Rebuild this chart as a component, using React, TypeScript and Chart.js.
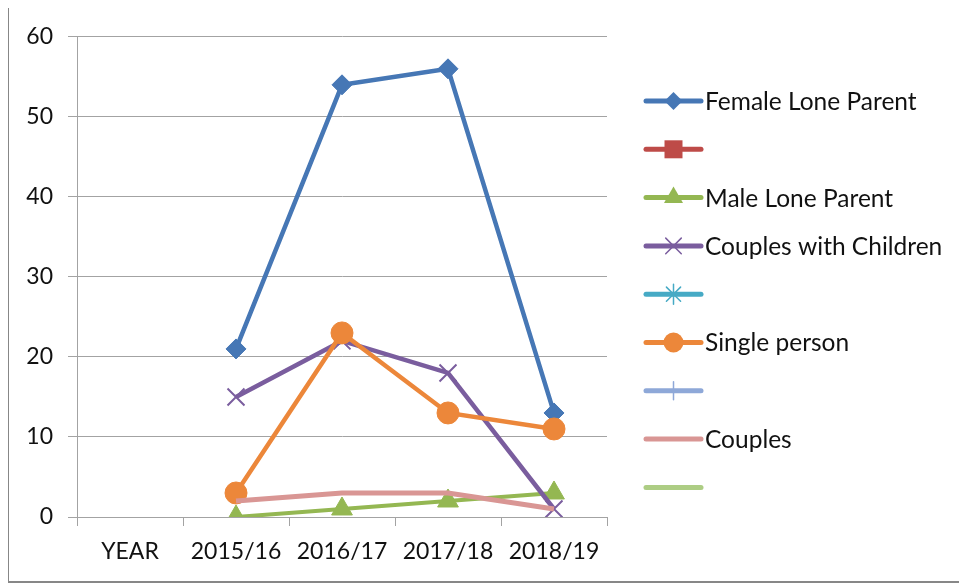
import React, { useEffect, useRef } from 'react';
import { Chart, registerables } from 'chart.js';

Chart.register(...registerables);

// ---------- data ----------
const categories = ['YEAR', '2015/16', '2016/17', '2017/18', '2018/19'];
const seriesNames = [
  'Female Lone Parent',
  '',
  'Male Lone Parent',
  'Couples with Children',
  '',
  'Single person',
  '',
  'Couples',
  '',
];
const femaleLoneParent = [null, 21, 54, 56, 13];
const unnamedSeries2 = [null, null, null, null, null];
const maleLoneParent = [null, 0, 1, 2, 3];
const couplesWithChildren = [null, 15, 22, 18, 1];
const unnamedSeries5 = [null, null, null, null, null];
const singlePerson = [null, 3, 23, 13, 11];
const unnamedSeries7 = [null, null, null, null, null];
const couples = [null, 2, 3, 3, 1];
const unnamedSeries9 = [null, null, null, null, null];
const yMin = 0;
const yMax = 60;
const yStep = 10;

// ---------- styles ----------
const seriesValues = [
  femaleLoneParent,
  unnamedSeries2,
  maleLoneParent,
  couplesWithChildren,
  unnamedSeries5,
  singlePerson,
  unnamedSeries7,
  couples,
  unnamedSeries9,
];
const seriesColors = ['#4677B5', '#BE4B48', '#94B752', '#7A5D9E', '#46AAC5', '#EC873A', '#8EA8D8', '#D99694', '#ADCD84'];
const seriesMarkers = ['rectRot', 'rect', 'triangle', 'crossRot', 'star', 'circle', 'cross', 'none', 'none'];
const chartRadius = [10, 9, 12, 12, 9, 11, 9, 0, 0];
const lineWidths = [4.5, 4.5, 4, 4.5, 4.5, 4.5, 4.5, 5, 5];

const FONT = 'Lato, "Open Sans", sans-serif';
const TEXT = '#111111';
const GRID = '#a3a3a3';

function drawMarker(ctx: CanvasRenderingContext2D, style: string, x: number, y: number, r: number, color: string) {
  ctx.save();
  ctx.fillStyle = color;
  ctx.strokeStyle = color;
  ctx.lineWidth = 1.5;
  ctx.beginPath();
  switch (style) {
    case 'rectRot':
      ctx.moveTo(x, y - r);
      ctx.lineTo(x + r, y);
      ctx.lineTo(x, y + r);
      ctx.lineTo(x - r, y);
      ctx.closePath();
      ctx.fill();
      break;
    case 'rect':
      ctx.rect(x - r, y - r, 2 * r, 2 * r);
      ctx.fill();
      break;
    case 'triangle': {
      const h = r * Math.sqrt(3) / 2;
      ctx.moveTo(x, y - r);
      ctx.lineTo(x + h, y + r / 2);
      ctx.lineTo(x - h, y + r / 2);
      ctx.closePath();
      ctx.fill();
      break;
    }
    case 'circle':
      ctx.arc(x, y, r, 0, Math.PI * 2);
      ctx.fill();
      break;
    case 'crossRot': {
      const d = r * Math.SQRT1_2;
      ctx.moveTo(x - d, y - d);
      ctx.lineTo(x + d, y + d);
      ctx.moveTo(x - d, y + d);
      ctx.lineTo(x + d, y - d);
      ctx.stroke();
      break;
    }
    case 'cross':
      ctx.moveTo(x, y - r);
      ctx.lineTo(x, y + r);
      ctx.stroke();
      break;
    case 'star': {
      const d = r * Math.SQRT1_2;
      ctx.moveTo(x - d, y - d);
      ctx.lineTo(x + d, y + d);
      ctx.moveTo(x - d, y + d);
      ctx.lineTo(x + d, y - d);
      ctx.moveTo(x, y - r);
      ctx.lineTo(x, y + r);
      ctx.stroke();
      break;
    }
    default:
      break;
  }
  ctx.restore();
}

const legendMarkerRadius: Record<string, number> = {
  rectRot: 9,
  rect: 9,
  triangle: 11,
  crossRot: 11,
  star: 10,
  circle: 10,
  cross: 9,
  none: 0,
};

const excelLegend = {
  id: 'excelLegend',
  afterDraw(chart: any) {
    const ctx: CanvasRenderingContext2D = chart.ctx;
    const x0 = 637;
    const x1 = 692;
    const xm = (x0 + x1) / 2;
    const textX = 696;
    const y0 = 93;
    const dy = 48.3;
    seriesNames.forEach((name, i) => {
      const y = y0 + i * dy;
      ctx.save();
      ctx.strokeStyle = seriesColors[i];
      ctx.lineWidth = 5;
      ctx.lineCap = 'round';
      ctx.beginPath();
      ctx.moveTo(x0, y);
      ctx.lineTo(x1, y);
      ctx.stroke();
      const m = seriesMarkers[i];
      drawMarker(ctx, m, xm, y, legendMarkerRadius[m], seriesColors[i]);
      if (name) {
        ctx.fillStyle = TEXT;
        ctx.font = `24.5px ${FONT}`;
        ctx.textBaseline = 'middle';
        ctx.textAlign = 'left';
        ctx.fillText(name, textX, y + 1);
      }
      ctx.restore();
    });
  },
};

export default function App() {
  const ref = useRef<HTMLCanvasElement | null>(null);

  useEffect(() => {
    if (!ref.current) return;
    const n = seriesNames.length;
    const datasets = seriesNames.map((name, i) => {
      const m = seriesMarkers[i];
      const isCross = m === 'crossRot' || m === 'cross' || m === 'star';
      return {
        label: name,
        data: seriesValues[i],
        borderColor: seriesColors[i],
        backgroundColor: seriesColors[i],
        borderWidth: lineWidths[i],
        pointStyle: m === 'none' ? false : m,
        pointRadius: m === 'none' ? 0 : chartRadius[i],
        pointBackgroundColor: isCross ? 'transparent' : seriesColors[i],
        pointBorderColor: seriesColors[i],
        pointBorderWidth: isCross ? 2 : 1,
        tension: 0,
        spanGaps: false,
        order: n - i,
      };
    });

    const chart = new Chart(ref.current, {
      type: 'line',
      data: { labels: categories, datasets: datasets as any },
      options: {
        responsive: false,
        animation: false,
        layout: { padding: { left: 0, right: 360, top: 28, bottom: 0 } },
        plugins: { legend: { display: false }, tooltip: { enabled: false } },
        scales: {
          x: {
            offset: true,
            grid: {
              offset: true,
              drawOnChartArea: false,
              drawTicks: true,
              tickLength: 9,
              color: GRID,
            },
            border: { display: true, color: GRID, width: 1 },
            ticks: {
              font: { family: FONT, size: 23 },
              color: TEXT,
              padding: 12,
              maxRotation: 0,
              autoSkip: false,
            },
            afterFit: (s: any) => {
              s.height = 64;
            },
          },
          y: {
            min: yMin,
            max: yMax,
            grid: { color: GRID, tickLength: 9, drawTicks: true },
            border: { display: true, color: GRID, width: 1 },
            ticks: {
              stepSize: yStep,
              font: { family: FONT, size: 23 },
              color: TEXT,
              padding: 15,
            },
            afterFit: (s: any) => {
              s.width = 68;
            },
          },
        },
      },
      plugins: [excelLegend],
    });
    return () => chart.destroy();
  }, []);

  return (
    <div
      style={{
        marginTop: -2,
        marginLeft: -1,
        width: 958,
        height: 573,
        borderTop: '2px solid #878787',
        borderLeft: '2px solid #878787',
        borderBottom: '2px solid #878787',
        background: '#fff',
        overflow: 'hidden',
      }}
    >
      <canvas ref={ref} width={958} height={573} style={{ display: 'block', width: 958, height: 573 }} />
    </div>
  );
}
